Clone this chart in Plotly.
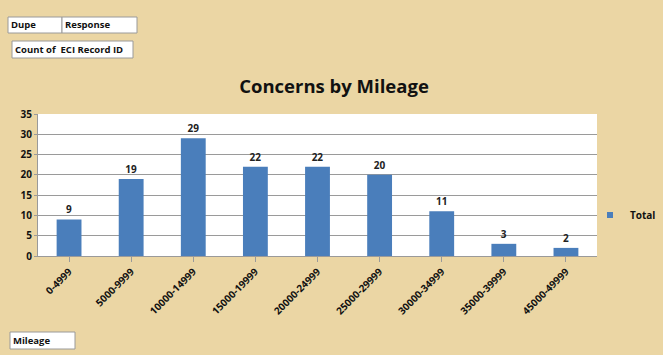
import plotly.graph_objects as go

categories = ["0-4999", "5000-9999", "10000-14999", "15000-19999", "20000-24999",
              "25000-29999", "30000-34999", "35000-39999", "45000-49999"]
totals = [9, 19, 29, 22, 22, 20, 11, 3, 2]
series_name = "Total"
y_ticks = [0, 5, 10, 15, 20, 25, 30, 35]

W, H = 663, 355
L, R, T, B = 38, 597, 114, 256

def px(x):
    return (x - L) / (R - L)

def py(y):
    return (B - y) / (B - T)

FONT = "Open Sans"
BG = "#ebd6a4"
BAR = "#4a7ebb"

fig = go.Figure()
fig.add_trace(go.Bar(
    x=categories, y=totals, name=series_name, showlegend=False,
    marker=dict(color=BAR, line=dict(width=0)),
    text=totals, textposition="outside",
    textfont=dict(family=FONT, size=10, color="#222222", weight="bold"),
    cliponaxis=False,
))
fig.add_trace(go.Scatter(
    x=[None], y=[None], mode="markers", name=series_name,
    marker=dict(symbol="square", size=6, color=BAR),
))

shapes = []
annotations = []

def box(x0, y0, x1, y1, text, size=9.5):
    shapes.append(dict(type="rect", xref="paper", yref="paper",
                       x0=px(x0), x1=px(x1), y0=py(y1), y1=py(y0),
                       fillcolor="white", line=dict(color="#9a9a9a", width=1), layer="above"))
    annotations.append(dict(xref="paper", yref="paper", x=px(x0 + 1), y=py((y0 + y1) / 2),
                            xanchor="left", yanchor="middle", showarrow=False,
                            text=text,
                            font=dict(family=FONT, size=size, color="#111111", weight="bold")))

box(8, 17, 62, 33, "Dupe")
box(62, 17, 137, 33, "Response")
box(12, 41, 133, 58, "Count of  ECI Record ID")
box(10, 332, 75, 349, "Mileage")

fig.update_layout(
    width=W, height=H,
    margin=dict(l=L, r=W - R, t=T, b=H - B, autoexpand=False),
    paper_bgcolor=BG, plot_bgcolor="white",
    title=dict(text="<b>Concerns by Mileage</b>", x=334 / W, y=1 - 87 / H,
               xanchor="center", yanchor="middle",
               font=dict(family=FONT, size=18.5, color="#111111")),
    bargap=0.6,
    showlegend=True,
    legend=dict(x=px(590), y=py(215), xanchor="left", yanchor="middle",
                bgcolor="rgba(0,0,0,0)",
                font=dict(family=FONT, size=10, color="#111111", weight="bold"),
                itemwidth=30),
    shapes=shapes,
    annotations=annotations,
    font=dict(family=FONT),
)
fig.update_yaxes(range=[0, 35], tickvals=y_ticks, showgrid=True, gridcolor="#9a9a9a",
                 gridwidth=1, showline=True, linecolor="#9a9a9a", ticks="outside",
                 ticklen=3, tickcolor="#9a9a9a", zeroline=False,
                 tickfont=dict(family=FONT, size=10, color="#111111", weight="bold"))
fig.update_xaxes(showline=True, linecolor="#9a9a9a", ticks="outside", ticklen=5,
                 tickcolor="#9a9a9a", tickangle=-45, showgrid=False,
                 tickfont=dict(family=FONT, size=10, color="#111111", weight="bold"))

fig.write_html("out.html", config={"displayModeBar": False},
               post_script="document.body.style.margin='0';document.body.style.padding='0';")
